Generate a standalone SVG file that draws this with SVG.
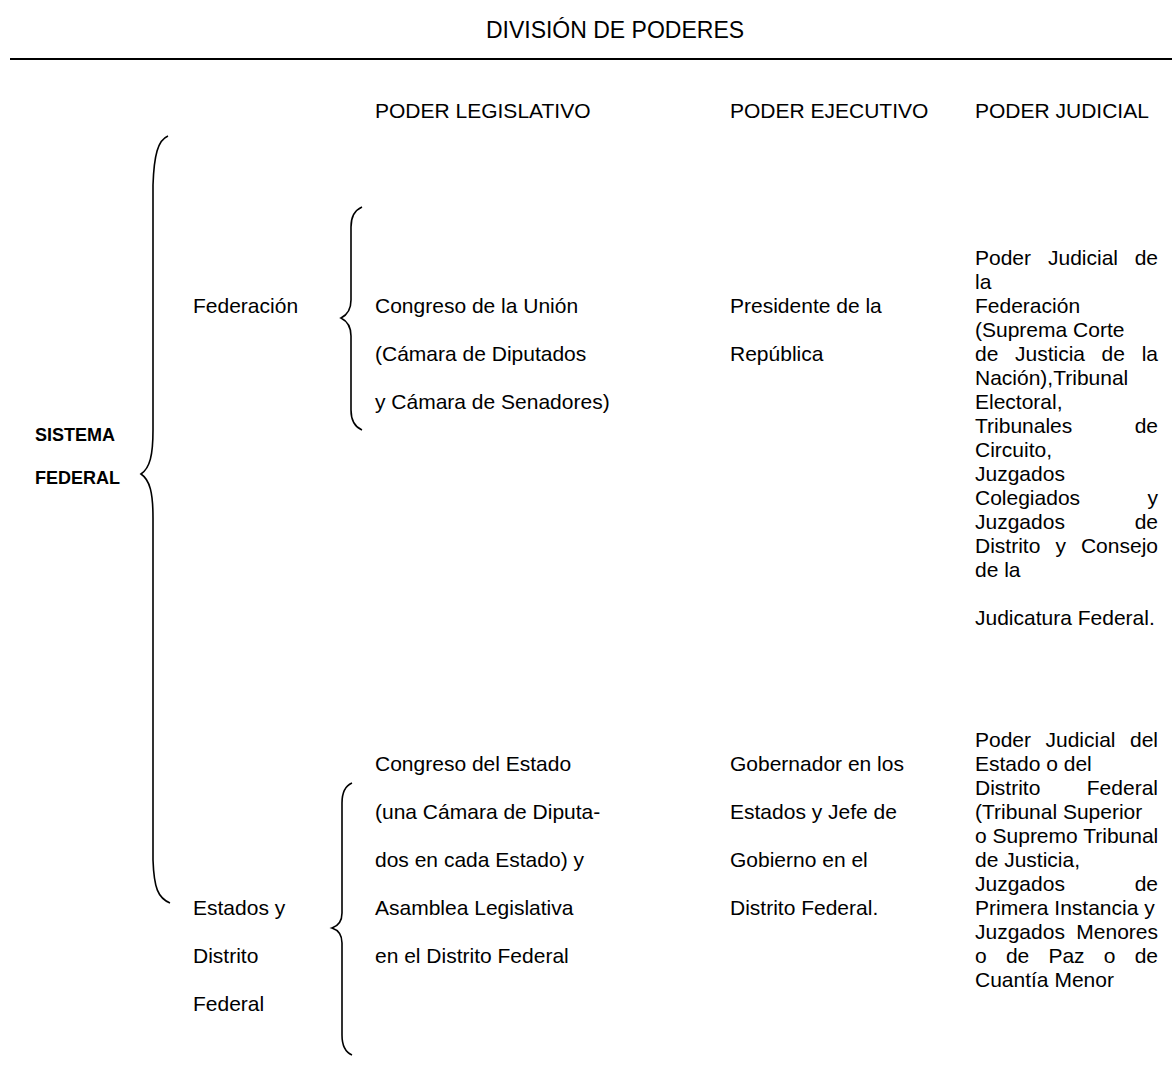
<svg xmlns="http://www.w3.org/2000/svg" width="1172" height="1071" viewBox="0 0 1172 1071">
<style>
text{font-family:"Liberation Sans",Arial,sans-serif;font-size:21px;fill:#000}
.title{font-size:23px}
.b{font-weight:bold;font-size:18px}
.br{fill:none;stroke:#000;stroke-width:1.6}
</style>
<rect width="1172" height="1071" fill="#fff"/>
<g id="title"><text class="title" x="615" y="38" text-anchor="middle">DIVISIÓN DE PODERES</text></g>
<line x1="10" y1="59" x2="1172" y2="59" stroke="#000" stroke-width="2"/>
<g id="headers">
<text x="375" y="118">PODER LEGISLATIVO</text>
<text x="730" y="118">PODER EJECUTIVO</text>
<text x="975" y="118">PODER JUDICIAL</text>
</g>
<g id="connectors">
<path class="br" d="M168,136 C158,140 154,155 153,185 L153,430 C153,455 150,468 141,474 C150,480 153,493 153,518 L153,860 C154,888 158,898 170,903"/>
<path class="br" d="M362,207 C355,210 351,216 351,227 L351,300 C351,310 347,315 341,318 C347,321 351,326 351,336 L351,410 C351,421 355,427 362,430"/>
<path class="br" d="M352,783 C345,786 342,792 342,803 L342,913 C342,922 338,926 332,928 C338,930 342,934 342,943 L342,1035 C342,1046 345,1052 352,1055"/>
</g>
<g id="sistema"><text class="b" x="35" y="441">SISTEMA</text><text class="b" x="35" y="484">FEDERAL</text></g>
<g id="federacion"><text x="193" y="313">Federación</text></g>
<g id="estados"><text x="193" y="915">Estados y</text><text x="193" y="963">Distrito</text><text x="193" y="1011">Federal</text></g>
<g id="leg-fed">
<text x="375" y="313">Congreso de la Unión</text>
<text x="375" y="361">(Cámara de Diputados</text>
<text x="375" y="409">y Cámara de Senadores)</text>
</g>
<g id="ejec-fed">
<text x="730" y="313">Presidente de la</text>
<text x="730" y="361">República</text>
</g>
<g id="jud-fed">
<text x="975" y="265">Poder<tspan x="1048">Judicial</tspan><tspan x="1158" text-anchor="end">de</tspan></text>
<text x="975" y="289">la</text>
<text x="975" y="313">Federación</text>
<text x="975" y="337">(Suprema Corte</text>
<text x="975" y="361">de<tspan x="1015">Justicia</tspan><tspan x="1101.6">de</tspan><tspan x="1158" text-anchor="end">la</tspan></text>
<text x="975" y="385">Nación),Tribunal</text>
<text x="975" y="409">Electoral,</text>
<text x="975" y="433">Tribunales<tspan x="1158" text-anchor="end">de</tspan></text>
<text x="975" y="457">Circuito,</text>
<text x="975" y="481">Juzgados</text>
<text x="975" y="505">Colegiados<tspan x="1158" text-anchor="end">y</tspan></text>
<text x="975" y="529">Juzgados<tspan x="1158" text-anchor="end">de</tspan></text>
<text x="975" y="553">Distrito<tspan x="1055.4">y</tspan><tspan x="1158" text-anchor="end">Consejo</tspan></text>
<text x="975" y="577">de la</text>
<text x="975" y="625">Judicatura Federal.</text>
</g>
<g id="leg-est">
<text x="375" y="771">Congreso del Estado</text>
<text x="375" y="819">(una Cámara de Diputa-</text>
<text x="375" y="867">dos en cada Estado) y</text>
<text x="375" y="915">Asamblea Legislativa</text>
<text x="375" y="963">en el Distrito Federal</text>
</g>
<g id="ejec-est">
<text x="730" y="771">Gobernador en los</text>
<text x="730" y="819">Estados y Jefe de</text>
<text x="730" y="867">Gobierno en el</text>
<text x="730" y="915">Distrito Federal.</text>
</g>
<g id="jud-est">
<text x="975" y="747">Poder<tspan x="1045.5">Judicial</tspan><tspan x="1158" text-anchor="end">del</tspan></text>
<text x="975" y="771">Estado o del</text>
<text x="975" y="795">Distrito<tspan x="1158" text-anchor="end">Federal</tspan></text>
<text x="975" y="819">(Tribunal Superior</text>
<text x="975" y="843">o Supremo Tribunal</text>
<text x="975" y="867">de Justicia,</text>
<text x="975" y="891">Juzgados<tspan x="1158" text-anchor="end">de</tspan></text>
<text x="975" y="915">Primera Instancia y</text>
<text x="975" y="939">Juzgados<tspan x="1158" text-anchor="end">Menores</tspan></text>
<text x="975" y="963">o<tspan x="1005.9">de</tspan><tspan x="1048.4">Paz</tspan><tspan x="1103.8">o</tspan><tspan x="1158" text-anchor="end">de</tspan></text>
<text x="975" y="987">Cuantía Menor</text>
</g>
</svg>
